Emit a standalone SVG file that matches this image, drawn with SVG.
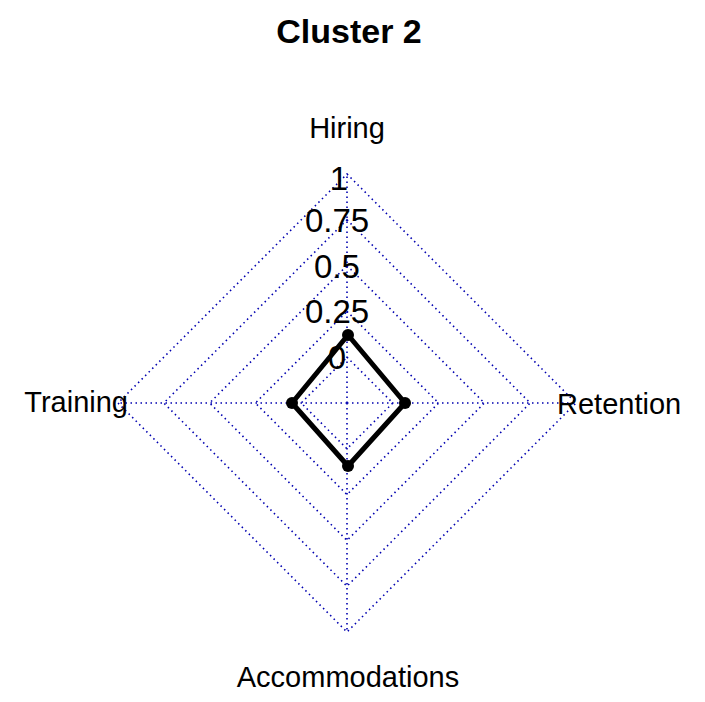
<svg xmlns="http://www.w3.org/2000/svg" width="705" height="702" viewBox="0 0 705 702">
<style>
.g{fill:none;stroke:#0000b0;stroke-width:1.6;stroke-dasharray:1.5 3.5}
.t{font-family:"Liberation Sans",Arial,sans-serif;fill:#000}
.s{font-size:33px;text-anchor:middle}
.l{font-size:29px}
</style>
<rect width="705" height="702" fill="#fff"/>
<g id="grid">
<polygon class="g" points="347,357.2 392.8,403 347,448.8 301.2,403"/>
<polygon class="g" points="347,311.4 438.6,403 347,494.6 255.4,403"/>
<polygon class="g" points="347,265.6 484.4,403 347,540.4 209.6,403"/>
<polygon class="g" points="347,219.8 530.2,403 347,586.2 163.8,403"/>
<polygon class="g" points="347,174 576,403 347,632 118,403"/>
<line class="g" x1="347" y1="403" x2="347" y2="174"/>
<line class="g" x1="347" y1="403" x2="576" y2="403"/>
<line class="g" x1="347" y1="403" x2="347" y2="632"/>
<line class="g" x1="347" y1="403" x2="118" y2="403"/>
</g>
<g id="scale" class="t s">
<text x="339" y="190">1</text>
<text x="337" y="232">0.75</text>
<text x="337" y="278">0.5</text>
<text x="337" y="323">0.25</text>
<text x="337" y="369">0</text>
</g>
<g id="series">
<polygon points="348,335 405,403 348,466 292,403" fill="none" stroke="#000" stroke-width="5" stroke-linejoin="round"/>
<circle cx="348" cy="335" r="6"/><circle cx="405" cy="403" r="6"/><circle cx="348" cy="466" r="6"/><circle cx="292" cy="403" r="6"/>
</g>
<text class="t" x="349" y="43" font-size="34" font-weight="bold" text-anchor="middle">Cluster 2</text>
<g id="labels" class="t l">
<text x="347" y="138" text-anchor="middle">Hiring</text>
<text x="128" y="412" text-anchor="end">Training</text>
<text x="557" y="414">Retention</text>
<text x="348" y="687" text-anchor="middle">Accommodations</text>
</g>
</svg>
